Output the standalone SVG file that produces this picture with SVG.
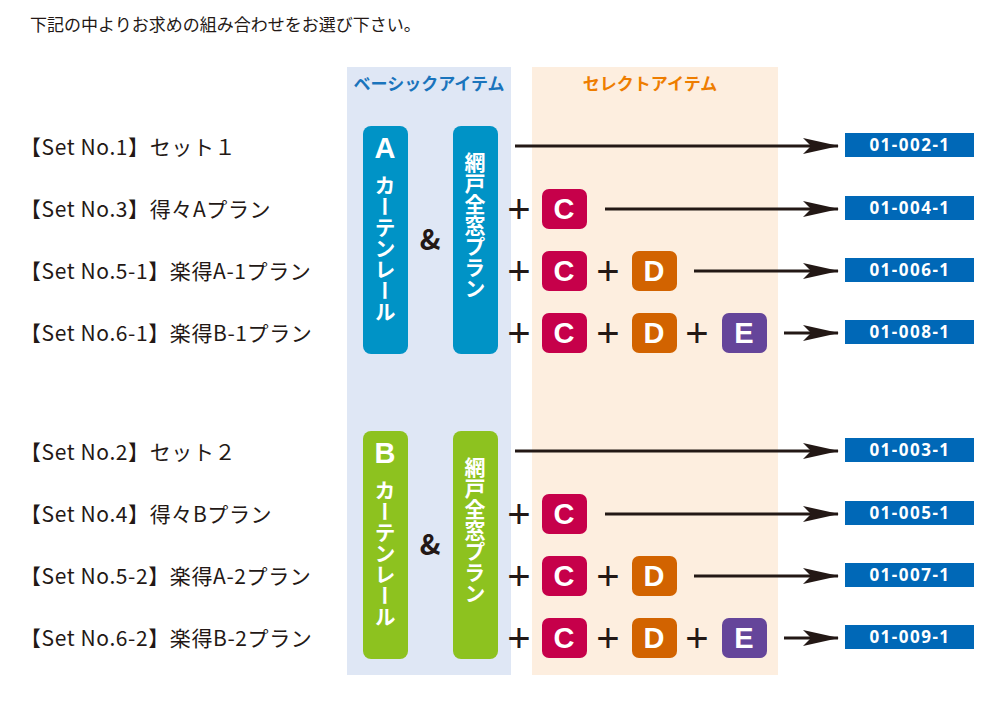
<svg xmlns="http://www.w3.org/2000/svg" width="1000" height="704" viewBox="0 0 1000 704">
<style>
text{font-family:"Noto Sans CJK JP","Noto Sans",sans-serif}
.lbl{font-size:21px;fill:#231815;letter-spacing:0.6px}
.k{fill:#fff;font-family:"Liberation Sans",sans-serif;font-weight:bold;font-size:29px;text-anchor:middle}
.v{fill:#fff;font-size:21px;font-weight:bold;writing-mode:vertical-rl;text-orientation:mixed}
.p{font-size:40px;fill:#231815;text-anchor:middle;font-family:"Liberation Sans",sans-serif}
.code{fill:#fff;font-size:17px;font-weight:bold;text-anchor:middle;font-family:"Noto Sans",sans-serif;letter-spacing:1.5px}
.ln{stroke:#231815;stroke-width:3;fill:none}
</style>
<defs>
<marker id="ar2" viewBox="0 0 36 16" markerWidth="36" markerHeight="16" refX="35" refY="8" orient="auto" markerUnits="userSpaceOnUse"><path d="M0,0 L36,8 L0,16 L8,8 Z" fill="#231815"/></marker>
</defs>
<rect width="1000" height="704" fill="#fff"/>
<text x="30" y="31" font-size="17" fill="#231815">下記の中よりお求めの組み合わせをお選び下さい。</text>
<rect x="347" y="67" width="164" height="608" fill="#dfe7f5"/>
<rect x="532" y="67" width="246" height="608" fill="#fdeedf"/>
<text x="429" y="90" font-size="17" font-weight="bold" fill="#1a74bc" text-anchor="middle">ベーシックアイテム</text>
<text x="650" y="90" font-size="17" font-weight="bold" fill="#ee7d00" text-anchor="middle">セレクトアイテム</text>

<g id="setlabels">
<text x="20" y="155" class="lbl">【Set No.1】セット１</text>
<text x="20" y="217" class="lbl">【Set No.3】得々Aプラン</text>
<text x="20" y="279" class="lbl">【Set No.5-1】楽得A-1プラン</text>
<text x="20" y="341" class="lbl">【Set No.6-1】楽得B-1プラン</text>
<text x="20" y="460" class="lbl">【Set No.2】セット２</text>
<text x="20" y="522" class="lbl">【Set No.4】得々Bプラン</text>
<text x="20" y="584" class="lbl">【Set No.5-2】楽得A-2プラン</text>
<text x="20" y="646" class="lbl">【Set No.6-2】楽得B-2プラン</text>
</g>

<g id="basicA">
<rect x="363" y="126" width="45" height="228" rx="8" fill="#0093c6"/>
<text x="385" y="158" class="k" font-size="31">A</text>
<text class="v" x="385" y="175">カーテンレール</text>
<rect x="453" y="126" width="45" height="228" rx="8" fill="#0093c6"/>
<text class="v" x="475" y="152">網戸全窓プラン</text>
<text x="430" y="250" font-size="28" font-weight="bold" fill="#231815" text-anchor="middle" font-family="Liberation Sans,sans-serif">&amp;</text>
</g>
<g id="basicB">
<rect x="363" y="431" width="45" height="228" rx="8" fill="#8dc21f"/>
<text x="385" y="463" class="k" font-size="31">B</text>
<text class="v" x="385" y="480">カーテンレール</text>
<rect x="453" y="431" width="45" height="228" rx="8" fill="#8dc21f"/>
<text class="v" x="475" y="457">網戸全窓プラン</text>
<text x="430" y="555" font-size="28" font-weight="bold" fill="#231815" text-anchor="middle" font-family="Liberation Sans,sans-serif">&amp;</text>
</g>

<g id="select">
<g id="r2"><text x="519" y="223" class="p">+</text><rect x="542" y="189" width="45" height="40" rx="7" fill="#c6004a"/><text x="564" y="219" class="k">C</text></g>
<g id="r3"><text x="519" y="285" class="p">+</text><rect x="542" y="251" width="45" height="40" rx="7" fill="#c6004a"/><text x="564" y="281" class="k">C</text>
<text x="608" y="285" class="p">+</text><rect x="632" y="251" width="45" height="40" rx="7" fill="#d26300"/><text x="654" y="281" class="k">D</text></g>
<g id="r4"><text x="519" y="347" class="p">+</text><rect x="542" y="313" width="45" height="40" rx="7" fill="#c6004a"/><text x="564" y="343" class="k">C</text>
<text x="608" y="347" class="p">+</text><rect x="632" y="313" width="45" height="40" rx="7" fill="#d26300"/><text x="654" y="343" class="k">D</text>
<text x="697" y="347" class="p">+</text><rect x="722" y="313" width="45" height="40" rx="7" fill="#65459a"/><text x="744" y="343" class="k">E</text></g>
<g id="r6"><text x="519" y="528" class="p">+</text><rect x="542" y="494" width="45" height="40" rx="7" fill="#c6004a"/><text x="564" y="524" class="k">C</text></g>
<g id="r7"><text x="519" y="590" class="p">+</text><rect x="542" y="556" width="45" height="40" rx="7" fill="#c6004a"/><text x="564" y="586" class="k">C</text>
<text x="608" y="590" class="p">+</text><rect x="632" y="556" width="45" height="40" rx="7" fill="#d26300"/><text x="654" y="586" class="k">D</text></g>
<g id="r8"><text x="519" y="652" class="p">+</text><rect x="542" y="618" width="45" height="40" rx="7" fill="#c6004a"/><text x="564" y="648" class="k">C</text>
<text x="608" y="652" class="p">+</text><rect x="632" y="618" width="45" height="40" rx="7" fill="#d26300"/><text x="654" y="648" class="k">D</text>
<text x="697" y="652" class="p">+</text><rect x="722" y="618" width="45" height="40" rx="7" fill="#65459a"/><text x="744" y="648" class="k">E</text></g>
</g>

<g id="connectors" class="ln">
<line x1="515" y1="146" x2="838" y2="146" marker-end="url(#ar2)"/>
<line x1="605" y1="209" x2="838" y2="209" marker-end="url(#ar2)"/>
<line x1="694" y1="271" x2="838" y2="271" marker-end="url(#ar2)"/>
<line x1="784" y1="333" x2="838" y2="333" marker-end="url(#ar2)"/>
<line x1="515" y1="451" x2="838" y2="451" marker-end="url(#ar2)"/>
<line x1="605" y1="514" x2="838" y2="514" marker-end="url(#ar2)"/>
<line x1="694" y1="576" x2="838" y2="576" marker-end="url(#ar2)"/>
<line x1="784" y1="638" x2="838" y2="638" marker-end="url(#ar2)"/>
</g>

<g id="codes">
<rect x="845" y="133" width="129" height="24" fill="#0068b7"/><text x="910" y="151" class="code">01-002-1</text>
<rect x="845" y="196" width="129" height="24" fill="#0068b7"/><text x="910" y="214" class="code">01-004-1</text>
<rect x="845" y="258" width="129" height="24" fill="#0068b7"/><text x="910" y="276" class="code">01-006-1</text>
<rect x="845" y="320" width="129" height="24" fill="#0068b7"/><text x="910" y="338" class="code">01-008-1</text>
<rect x="845" y="438" width="129" height="24" fill="#0068b7"/><text x="910" y="456" class="code">01-003-1</text>
<rect x="845" y="501" width="129" height="24" fill="#0068b7"/><text x="910" y="519" class="code">01-005-1</text>
<rect x="845" y="563" width="129" height="24" fill="#0068b7"/><text x="910" y="581" class="code">01-007-1</text>
<rect x="845" y="625" width="129" height="24" fill="#0068b7"/><text x="910" y="643" class="code">01-009-1</text>
</g>
</svg>
